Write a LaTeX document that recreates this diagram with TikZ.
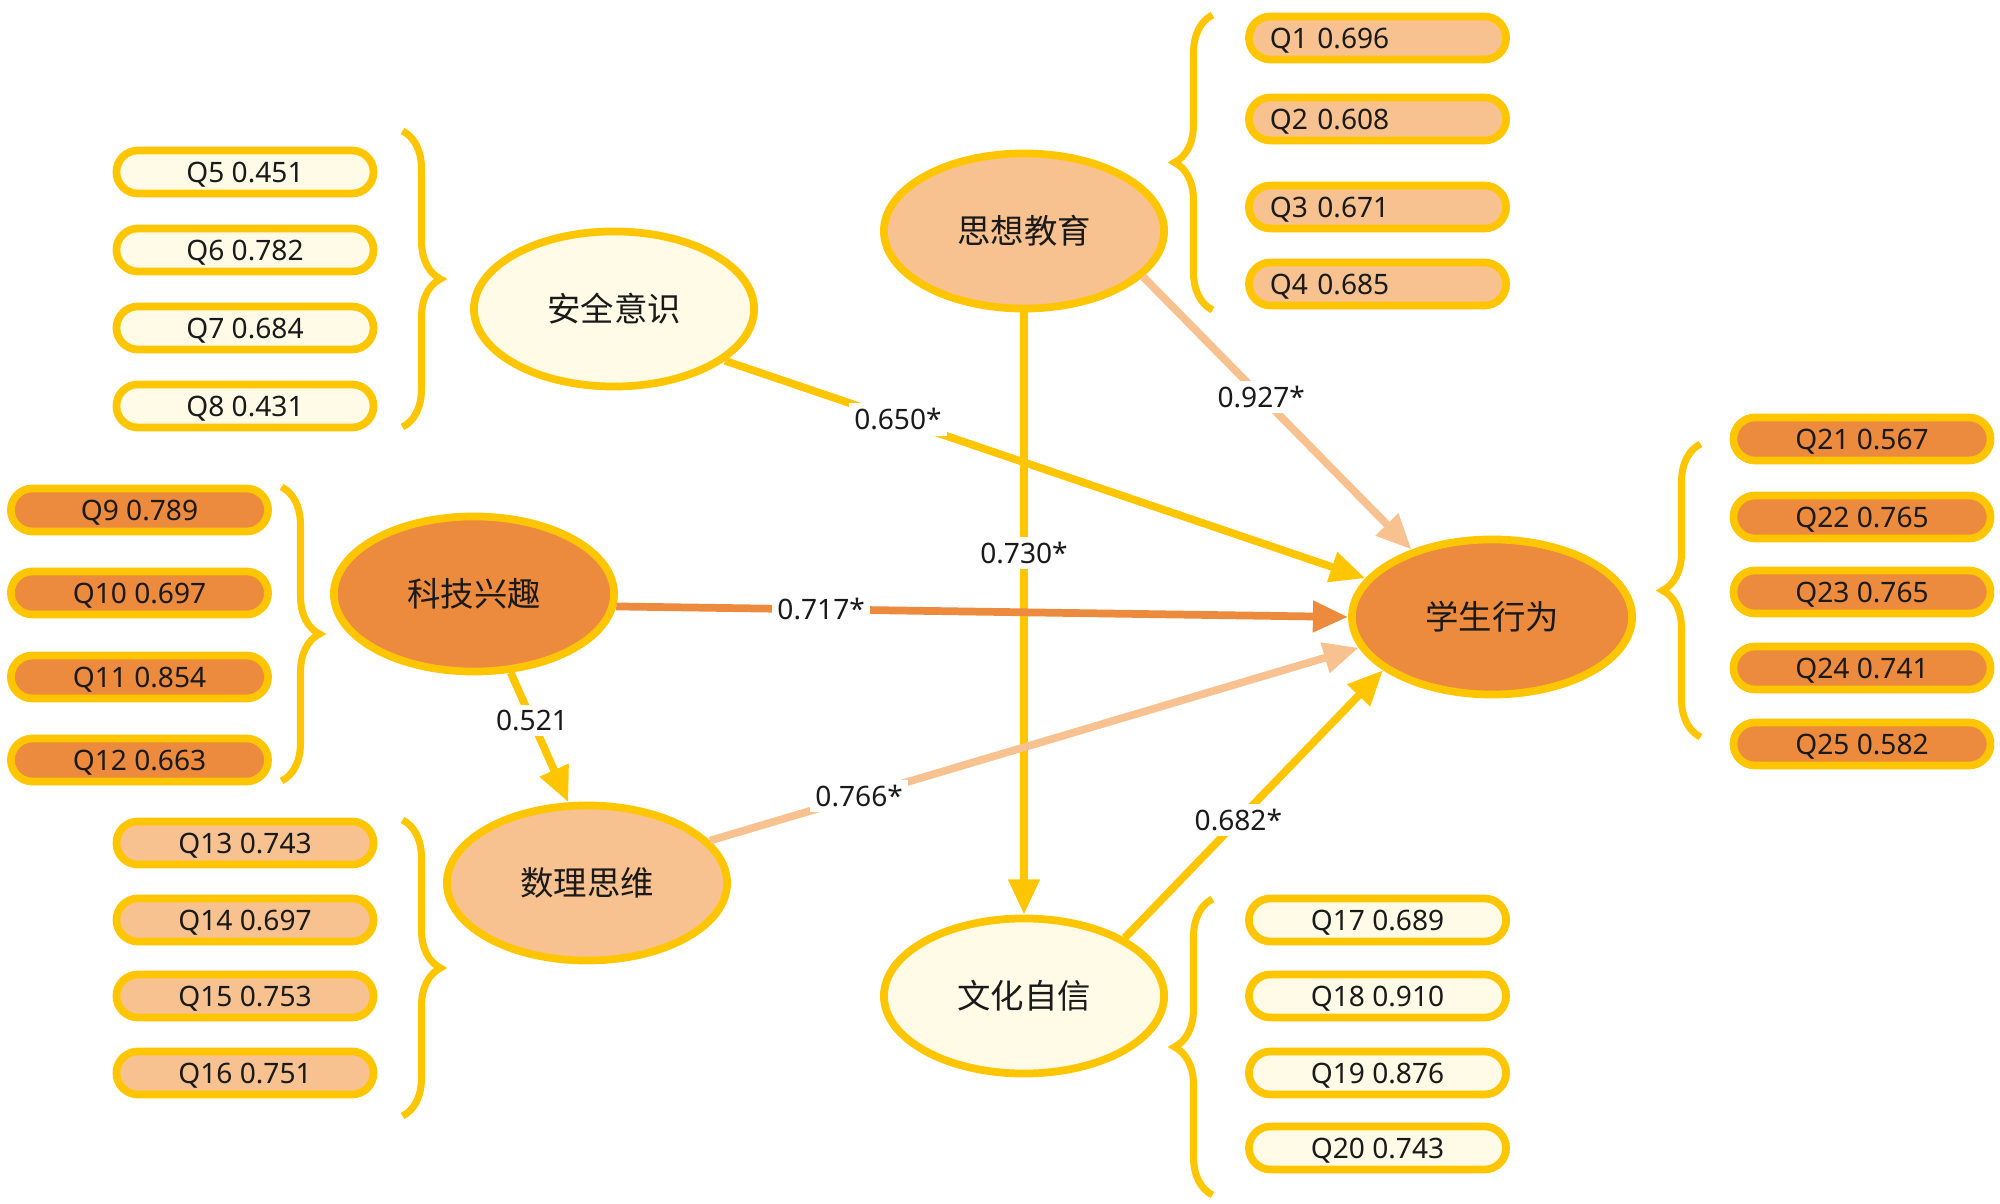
\documentclass[tikz,border=0pt]{standalone}
\usepackage{fontspec}
\setmainfont{Noto Sans}
\newfontfamily\cjk{Noto Sans CJK SC}
\usetikzlibrary{shapes.geometric,arrows.meta,decorations.pathreplacing}
\definecolor{ygold}{HTML}{FFC600}
\definecolor{lorange}{HTML}{F8C190}
\definecolor{dorange}{HTML}{EC8A3D}
\definecolor{cream}{HTML}{FFFBE6}
\definecolor{ink}{HTML}{1A1A1A}
\begin{document}
\begin{tikzpicture}[x=0.01cm,y=-0.01cm,
  latent/.style={ellipse,draw=ygold,line width=2.2pt,minimum width=2.80cm,minimum height=1.55cm,inner sep=0pt,text=ink,font=\cjk\fontsize{9.5}{11}\selectfont},
  item/.style={draw=ygold,line width=2.2pt,rounded corners=0.215cm,minimum width=2.57cm,minimum height=0.43cm,inner sep=0pt,text height=6.1pt,text depth=0pt,text=ink,font=\fontsize{8}{10}\selectfont},
  itemleft/.style={item,text width=2.15cm,inner xsep=0.21cm,align=left},
  conn/.style={line width=2.2pt,-{Triangle[width=8.5pt,length=10pt]}},
  coef/.style={fill=white,inner sep=1.5pt,text=ink,font=\fontsize{8}{10}\selectfont},
  bracestyle/.style={draw=ygold,line width=2pt,decorate,decoration={brace,amplitude=0.38cm}}
]
\useasboundingbox (0,0) rectangle (2000,1204);

% latent variables
\node[latent,fill=lorange] (sx) at (1024,231) {思想教育};
\node[latent,fill=cream]   (aq) at (614,309)  {安全意识};
\node[latent,fill=dorange] (kj) at (474,594)  {科技兴趣};
\node[latent,fill=lorange] (sl) at (587,883)  {数理思维};
\node[latent,fill=cream]   (wh) at (1024,996) {文化自信};
\node[latent,fill=dorange] (xs) at (1492,617) {学生行为};

% paths
\draw[conn,color=ygold] (sx.south) -- node[coef,pos=0.40]{0.730*} (wh.north);
\draw[conn,color=ygold] (aq.-25) -- node[coef,pos=0.27]{0.650*} (xs.163);
\draw[conn,color=lorange] (sx.-21) -- node[coef,pos=0.44]{0.927*} (xs.140);
\draw[conn,color=dorange] (kj.-5) -- node[coef,pos=0.28]{0.717*} (xs.180);
\draw[conn,color=ygold] (kj.-65) -- node[coef,pos=0.37]{0.521} (sl.103);
\draw[conn,color=lorange] (sl.19) -- node[coef,pos=0.23]{0.766*} (xs.-167);
\draw[conn,color=ygold] (wh.30) -- node[coef,pos=0.44]{0.682*} (xs.-154);

% indicators
\node[itemleft,fill=lorange] (q1) at (1377.5,38)  {Q1 0.696};
\node[itemleft,fill=lorange] (q2) at (1377.5,119) {Q2 0.608};
\node[itemleft,fill=lorange] (q3) at (1377.5,207) {Q3 0.671};
\node[itemleft,fill=lorange] (q4) at (1377.5,284) {Q4 0.685};

\node[item,fill=cream] (q5) at (245,172) {Q5 0.451};
\node[item,fill=cream] (q6) at (245,250) {Q6 0.782};
\node[item,fill=cream] (q7) at (245,328) {Q7 0.684};
\node[item,fill=cream] (q8) at (245,406) {Q8 0.431};

\node[item,fill=dorange] (q9)  at (139.5,510) {Q9 0.789};
\node[item,fill=dorange] (q10) at (139.5,593) {Q10 0.697};
\node[item,fill=dorange] (q11) at (139.5,677) {Q11 0.854};
\node[item,fill=dorange] (q12) at (139.5,760) {Q12 0.663};

\node[item,fill=lorange] (q13) at (245,843)  {Q13 0.743};
\node[item,fill=lorange] (q14) at (245,920)  {Q14 0.697};
\node[item,fill=lorange] (q15) at (245,996)  {Q15 0.753};
\node[item,fill=lorange] (q16) at (245,1073) {Q16 0.751};

\node[item,fill=cream] (q17) at (1377.5,920)  {Q17 0.689};
\node[item,fill=cream] (q18) at (1377.5,996)  {Q18 0.910};
\node[item,fill=cream] (q19) at (1377.5,1073) {Q19 0.876};
\node[item,fill=cream] (q20) at (1377.5,1148) {Q20 0.743};

\node[item,fill=dorange] (q21) at (1862,439) {Q21 0.567};
\node[item,fill=dorange] (q22) at (1862,517) {Q22 0.765};
\node[item,fill=dorange] (q23) at (1862,592) {Q23 0.765};
\node[item,fill=dorange] (q24) at (1862,668) {Q24 0.741};
\node[item,fill=dorange] (q25) at (1862,744) {Q25 0.582};

% braces
\draw[bracestyle] (1212.5,310) -- (1212.5,15);
\draw[bracestyle] (402.5,131) -- (402.5,427);
\draw[bracestyle] (281.5,487) -- (281.5,781);
\draw[bracestyle] (402.5,820) -- (402.5,1116);
\draw[bracestyle] (1212.5,1195) -- (1212.5,899);
\draw[bracestyle] (1700.5,737) -- (1700.5,444);
\end{tikzpicture}
\end{document}
